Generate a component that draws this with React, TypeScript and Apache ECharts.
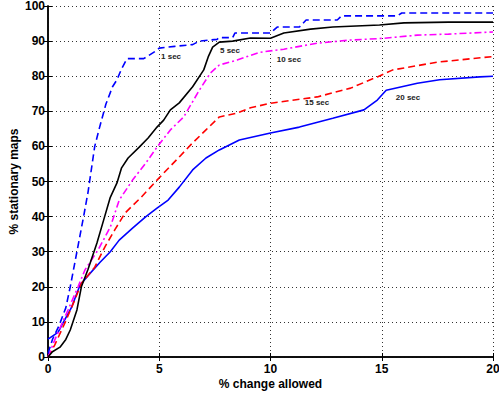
import React, { useEffect, useRef } from "react";
import * as echarts from "echarts";

const xTicks = [0, 5, 10, 15, 20];
const yTicks = [0, 10, 20, 30, 40, 50, 60, 70, 80, 90, 100];

const sec1X = [0, 0.1, 0.2, 0.5, 0.8, 1.0, 1.3, 1.6, 1.8, 2.1, 2.3, 2.6, 2.9, 3.1, 3.3, 3.55, 4.3, 4.8, 5.0, 5.7, 6.5, 6.8, 7.6, 7.7, 8.3, 8.4, 10.0, 10.3, 11.3, 11.6, 13.0, 13.2, 15.7, 15.9, 20];
const sec1Y = [1, 3, 5, 9, 14, 20, 30, 40, 47, 60, 65, 72, 77, 79, 82, 85, 85, 87, 88, 88.5, 89, 90, 90.5, 91, 91, 92.3, 92.3, 94, 94, 96, 96, 97.2, 97.2, 98, 98];

const sec5X = [0, 0.2, 0.54, 0.8, 1.0, 1.3, 1.5, 1.8, 2.2, 2.5, 2.8, 3.1, 3.3, 3.6, 4.1, 4.5, 4.9, 5.2, 5.5, 5.9, 6.5, 7.0, 7.2, 7.4, 7.7, 8.3, 9.1, 10.0, 10.6, 11.8, 12.8, 14.9, 16.0, 18.0, 20];
const sec5Y = [0, 1.5, 2.8, 5, 7.7, 13.4, 20, 25, 32.5, 39, 45.5, 49.6, 53.8, 56.7, 59.8, 62.4, 65.5, 67.5, 70.4, 72.4, 77, 81.8, 85.5, 88.3, 89.7, 90, 90.9, 90.8, 92.3, 93.4, 94, 94.6, 95.2, 95.4, 95.4];

const sec10X = [0, 0.3, 0.9, 1.35, 1.66, 2.25, 2.8, 3.2, 3.8, 4.4, 4.9, 5.5, 6.1, 6.8, 7.3, 7.7, 8.5, 9.5, 10.6, 12.1, 13.6, 15.1, 16.6, 18, 20];
const sec10Y = [0, 4.8, 13.4, 20, 24.8, 30.5, 37, 44.7, 50.4, 55.3, 59.8, 64.7, 68.4, 76, 80.9, 83.2, 84.6, 86.8, 87.7, 89.4, 90.3, 90.8, 91.7, 92, 92.6];

const sec15X = [0, 0.3, 0.76, 1.2, 1.5, 2.1, 2.56, 3.0, 3.46, 4.2, 4.9, 5.2, 5.9, 6.5, 7.1, 7.7, 8.5, 9.1, 10, 12.1, 13.6, 14.8, 15.5, 17.5, 20];
const sec15Y = [0, 3.4, 9.7, 16.2, 21, 25.6, 31.4, 36.2, 41, 45.6, 50.4, 52.4, 57, 61, 64.7, 68.4, 69.5, 71, 72.3, 74.1, 76.6, 79.8, 81.8, 84, 85.6];

const sec20X = [0, 0.45, 0.7, 1.07, 1.44, 1.9, 2.34, 2.8, 3.2, 3.8, 4.4, 4.9, 5.4, 5.9, 6.5, 7.1, 7.7, 8.6, 10, 11.3, 12.8, 14.2, 14.8, 15.2, 16.6, 17.6, 19.4, 20];
const sec20Y = [5.1, 7, 10, 14.3, 20.5, 23.9, 27, 30, 33.3, 36.7, 40, 42.4, 44.7, 48.4, 53.3, 56.7, 59, 61.8, 63.8, 65.5, 68, 70.4, 73.2, 76, 78, 79, 79.8, 80];

const seriesNames = ["1 sec", "5 sec", "10 sec", "15 sec", "20 sec"];
const labelPos: [number, number][] = [
  [5.53, 85.5],
  [8.18, 87.2],
  [10.83, 84.9],
  [12.09, 72.4],
  [16.18, 73.8],
];

const zip = (xs: number[], ys: number[]) => xs.map((x, i) => [x, ys[i]]);

export default function App() {
  const ref = useRef<HTMLDivElement>(null);
  useEffect(() => {
    if (!ref.current) return;
    const chart = echarts.init(ref.current, undefined, { renderer: "svg" });
    const font = "Liberation Sans, Arial, Helvetica, sans-serif";
    const specs = [
      { x: sec1X, y: sec1Y, color: "#0000ff", type: [7, 4] as any },
      { x: sec5X, y: sec5Y, color: "#000000", type: "solid" as any },
      { x: sec10X, y: sec10Y, color: "#ff00ff", type: [7, 3, 2, 3] as any },
      { x: sec15X, y: sec15Y, color: "#ff0000", type: [7, 4] as any },
      { x: sec20X, y: sec20Y, color: "#0000ff", type: "solid" as any },
    ];
    const gridLine = () => ({ show: true, lineStyle: { color: "#333", type: [1, 3] as any, width: 1 } });
    chart.setOption({
      animation: false,
      backgroundColor: "#fff",
      grid: {
        left: 48,
        right: 6,
        top: 6,
        bottom: 36,
        show: false,
        containLabel: false,
        outerBoundsMode: "none",
      },
      xAxis: [
        {
          type: "value",
          min: xTicks[0],
          max: xTicks[xTicks.length - 1],
          interval: 5,
          name: "% change allowed",
          nameLocation: "middle",
          nameGap: 21,
          nameMoveOverlap: false,
          nameTextStyle: { fontFamily: font, fontWeight: "bold", fontSize: 12, color: "#000" },
          axisLine: { show: true, lineStyle: { color: "#000", width: 1.5 } },
          axisTick: { show: true, inside: true, length: 4, lineStyle: { color: "#000" } },
          axisLabel: { fontFamily: font, fontWeight: "bold", fontSize: 12, color: "#000", margin: 6 },
          splitLine: gridLine(),
          z: 3,
        },
        {
          type: "value",
          position: "top",
          min: 0,
          max: 20,
          interval: 5,
          axisLine: { show: true, lineStyle: { color: "#000", width: 1.5 } },
          axisTick: { show: true, inside: true, length: 4, lineStyle: { color: "#000" } },
          axisLabel: { show: false },
          splitLine: { show: false },
        },
      ],
      yAxis: [
        {
          type: "value",
          min: yTicks[0],
          max: yTicks[yTicks.length - 1],
          interval: 10,
          name: "% stationary maps",
          nameLocation: "middle",
          nameGap: 28,
          nameRotate: 90,
          nameMoveOverlap: false,
          nameTextStyle: { fontFamily: font, fontWeight: "bold", fontSize: 12, color: "#000" },
          axisLine: { show: true, lineStyle: { color: "#000", width: 1.5 } },
          axisTick: { show: true, inside: true, length: 4, lineStyle: { color: "#000" } },
          axisLabel: { fontFamily: font, fontWeight: "bold", fontSize: 12, color: "#000", margin: 3 },
          splitLine: gridLine(),
          z: 3,
        },
        {
          type: "value",
          position: "right",
          min: 0,
          max: 100,
          interval: 10,
          axisLine: { show: true, lineStyle: { color: "#000", width: 1.5 } },
          axisTick: { show: true, inside: true, length: 4, lineStyle: { color: "#000" } },
          axisLabel: { show: false },
          splitLine: { show: false },
        },
      ],
      series: specs.map((s, i) => ({
        type: "line",
        name: seriesNames[i],
        data: zip(s.x, s.y),
        showSymbol: false,
        symbol: "none",
        lineStyle: { color: s.color, width: 1.6, type: s.type },
        itemStyle: { color: s.color },
        z: 5 - i + 2,
        markPoint: {
          symbol: "circle",
          symbolSize: 0,
          data: [
            {
              coord: labelPos[i],
              label: {
                show: true,
                position: "inside",
                formatter: seriesNames[i],
                fontFamily: font,
                fontWeight: "bold",
                fontSize: 8,
                color: "#222",
              },
            },
          ],
        },
      })),
    });
    return () => chart.dispose();
  }, []);
  return (
    <div
      ref={ref}
      style={{ position: "fixed", left: 0, top: 0, width: 499, height: 393, background: "#fff" }}
    />
  );
}
